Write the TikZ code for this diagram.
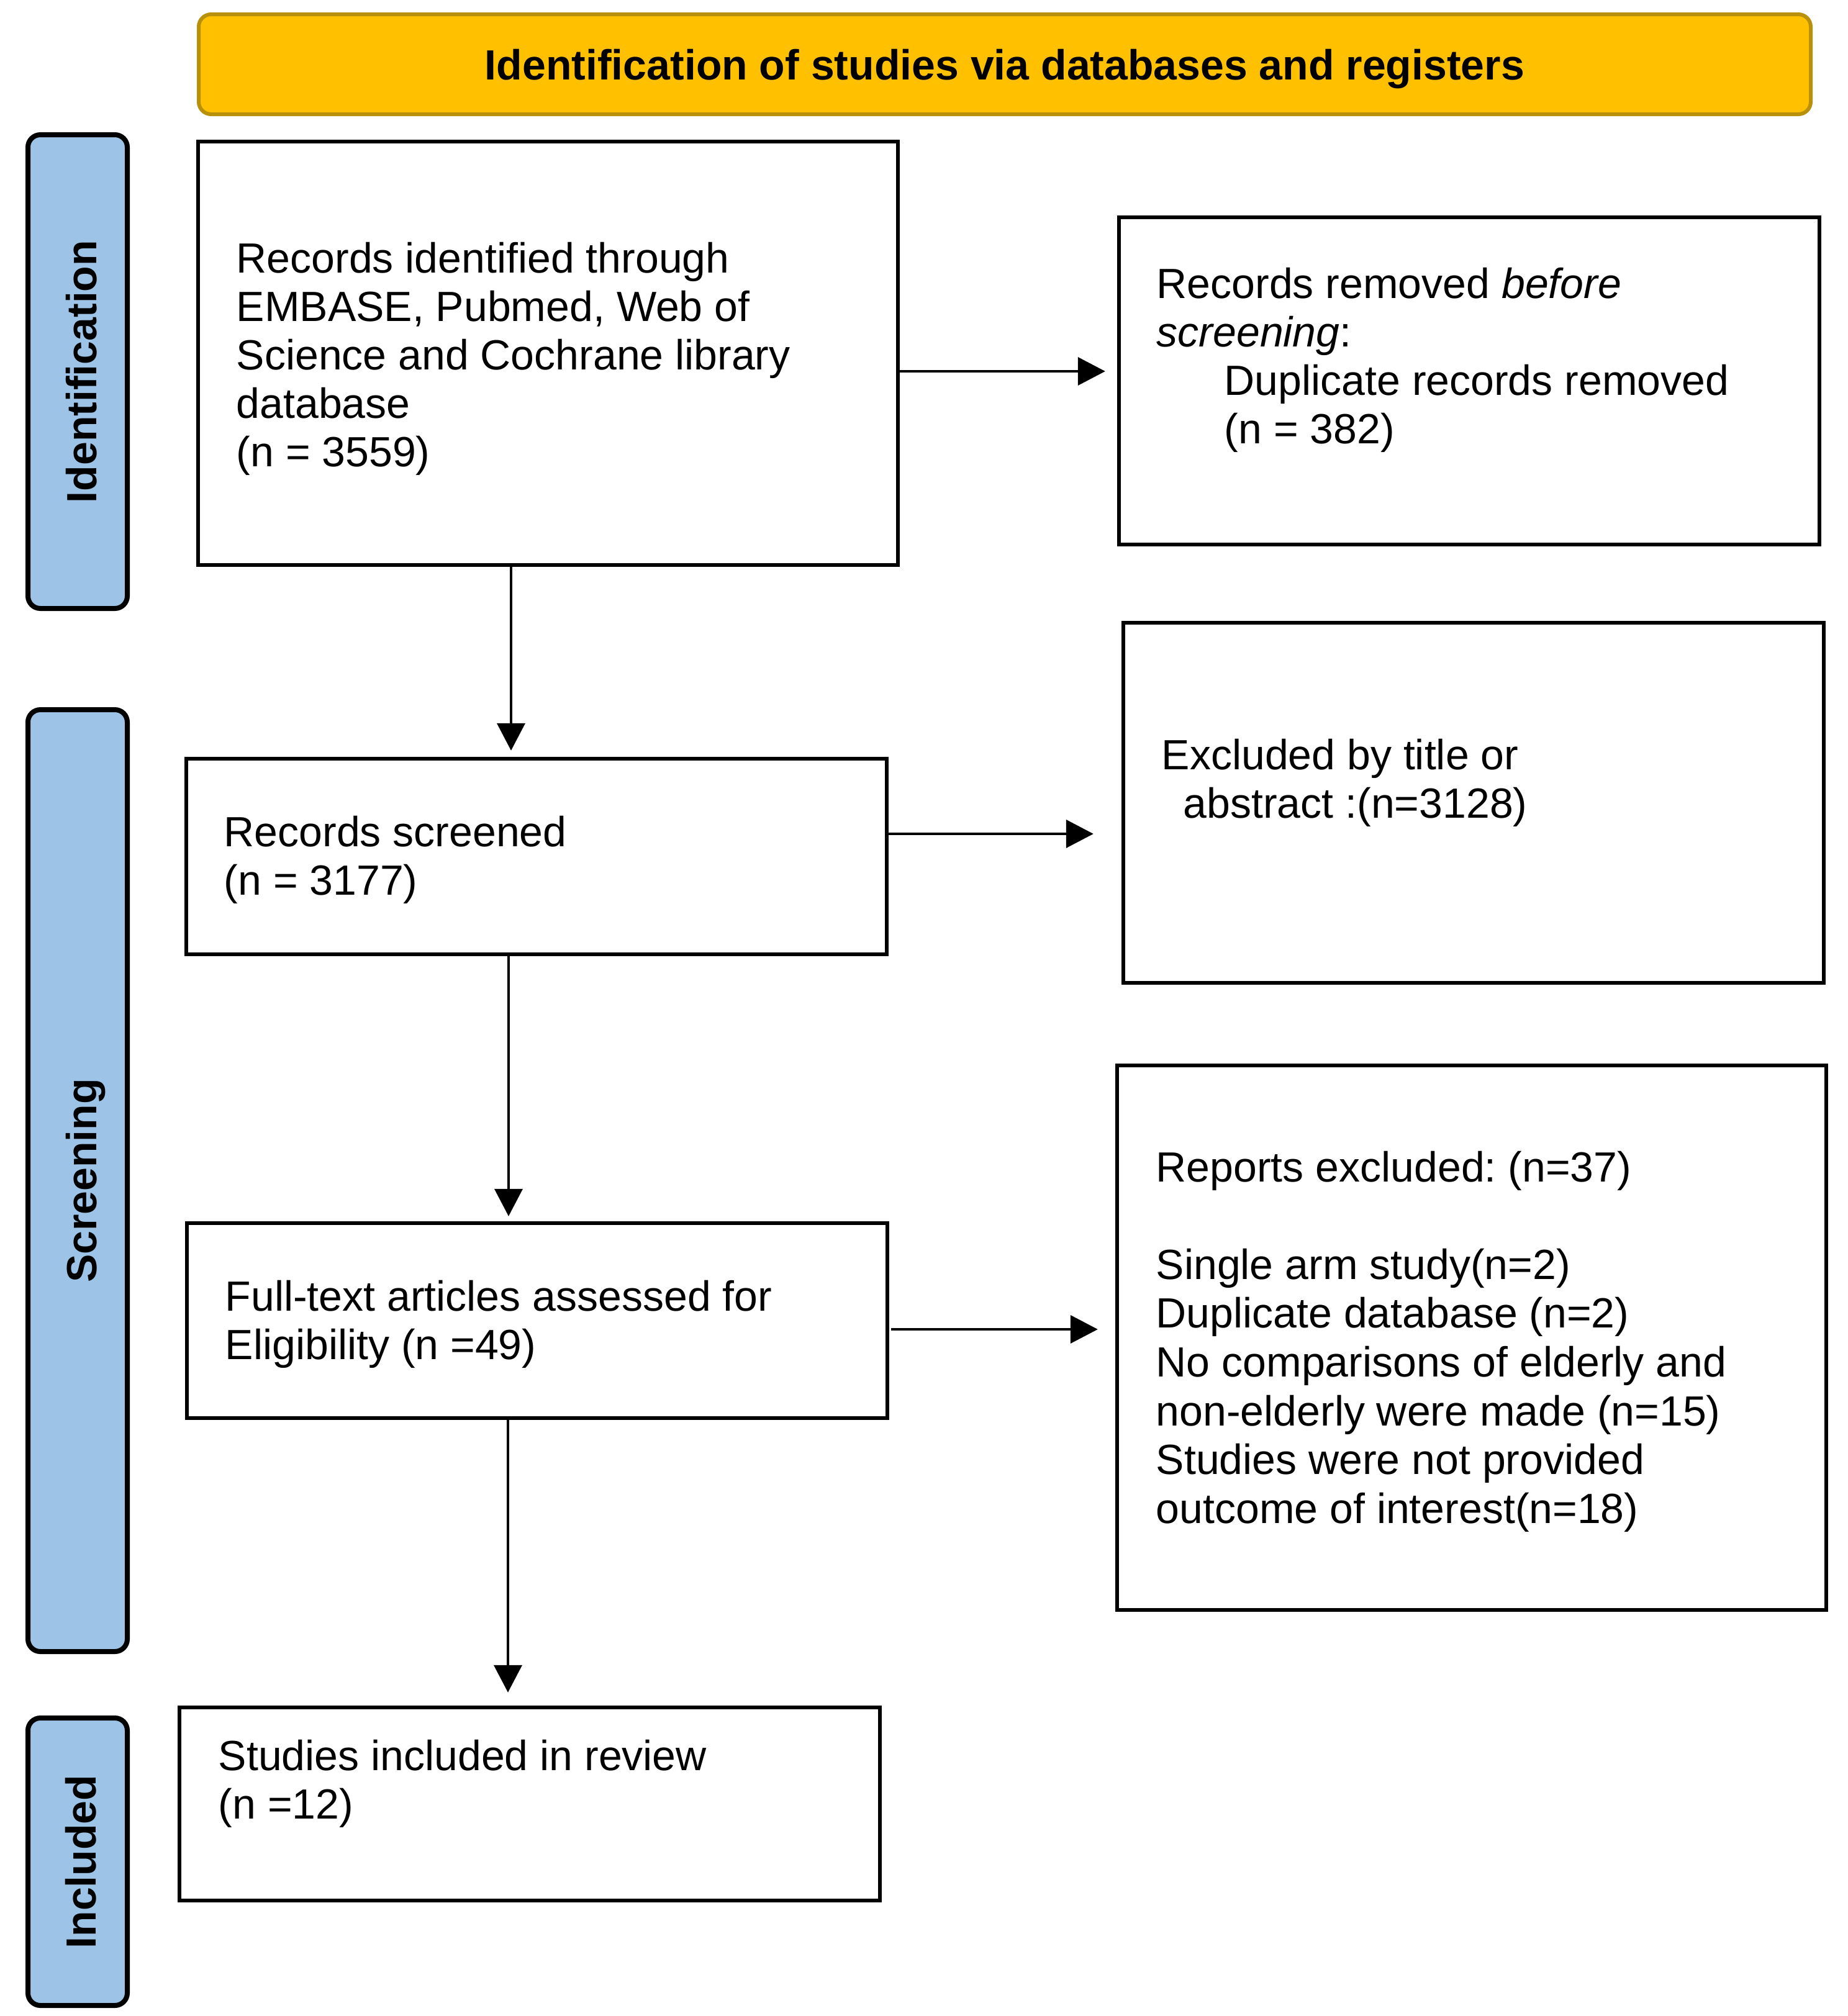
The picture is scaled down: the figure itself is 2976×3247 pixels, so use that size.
\documentclass[tikz,border=0pt]{standalone}
\usepackage{fontspec}
\setmainfont{Liberation Sans}
\usetikzlibrary{fit,arrows.meta}
\definecolor{hdrfill}{HTML}{FFC000}
\definecolor{hdrline}{HTML}{B8900A}
\definecolor{sidefill}{HTML}{9DC3E6}
\begin{document}
\frenchspacing
\begin{tikzpicture}[x=0.25pt,y=-0.25pt,
  box/.style={draw=black,line width=1.6pt,inner sep=0pt,fill=white},
  sidebox/.style={draw=black,line width=2pt,fill=sidefill,rounded corners=5pt,inner sep=0pt},
  hdrbox/.style={draw=hdrline,line width=1.5pt,fill=hdrfill,rounded corners=5pt,inner sep=0pt},
  txt/.style={inner sep=0pt,anchor=base west,font=\fontsize{17pt}{19.55pt}\selectfont\frenchspacing},
  sidetxt/.style={inner sep=0pt,anchor=base,rotate=90,font=\fontsize{17pt}{20pt}\selectfont\bfseries},
  arr/.style={draw=black,line width=1pt,-{Triangle[length=11pt,width=11.25pt]}}
]
\useasboundingbox (0,0) rectangle (2976,3247);

% header
\coordinate (hA) at (320,23); \coordinate (hB) at (2916,184);
\node[hdrbox,fit=(hA)(hB)] (hdr) {};
\node[inner sep=0pt,anchor=base,font=\fontsize{17pt}{20pt}\selectfont\bfseries] (hdrt) at (1618,128) {Identification of studies via databases and registers};

% side boxes
\coordinate (sIA) at (45,217); \coordinate (sIB) at (205,980);
\node[sidebox,fit=(sIA)(sIB)] (sideI) {};
\node[sidetxt] (sideIt) at (155,598.5) {Identification};
\coordinate (sSA) at (45,1143); \coordinate (sSB) at (205,2660);
\node[sidebox,fit=(sSA)(sSB)] (sideS) {};
\node[sidetxt] (sideSt) at (155,1901.5) {Screening};
\coordinate (sNA) at (45,2767); \coordinate (sNB) at (205,3230);
\node[sidebox,fit=(sNA)(sNB)] (sideN) {};
\node[sidetxt] (sideNt) at (154,2998.5) {Included};

% boxes
\coordinate (b1A) at (319,228); \coordinate (b1B) at (1446,910);
\node[box,fit=(b1A)(b1B)] (b1) {};
\node[txt] (t1) at (380,439) {\parbox[t]{300pt}{Records identified through\\EMBASE, Pubmed, Web of\\Science and Cochrane library\\database\\(n = 3559)}};

\coordinate (b2A) at (1802,350); \coordinate (b2B) at (2930,877);
\node[box,fit=(b2A)(b2B)] (b2) {};
\node[txt] (t2) at (1862,480) {\parbox[t]{300pt}{Records removed \textit{before}\\\textit{screening}:\\\hspace*{27.25pt}Duplicate records removed\\\hspace*{27.25pt}(n = 382)}};

\coordinate (b3A) at (300,1222); \coordinate (b3B) at (1428,1537);
\node[box,fit=(b3A)(b3B)] (b3) {};
\node[txt] (t3) at (360,1363) {\parbox[t]{300pt}{Records screened\\(n = 3177)}};

\coordinate (b4A) at (1809,1003); \coordinate (b4B) at (2937,1583);
\node[box,fit=(b4A)(b4B)] (b4) {};
\node[txt] (t4) at (1870,1239) {\parbox[t]{300pt}{Excluded by title or\\\hspace*{8.75pt}abstract :(n=3128)}};

\coordinate (b5A) at (1799,1716); \coordinate (b5B) at (2941,2593);
\node[box,fit=(b5A)(b5B)] (b5) {};
\node[txt,font=\fontsize{17pt}{19.65pt}\selectfont\frenchspacing] (t5) at (1861,1903) {\parbox[t]{300pt}{Reports excluded: (n=37)\\[19.65pt]Single arm study(n=2)\\Duplicate database (n=2)\\No comparisons of elderly and\\non-elderly were made (n=15)\\Studies were not provided\\outcome of interest(n=18)}};

\coordinate (b6A) at (301,1970); \coordinate (b6B) at (1429,2284);
\node[box,fit=(b6A)(b6B)] (b6) {};
\node[txt] (t6) at (362,2111) {\parbox[t]{300pt}{Full-text articles assessed for\\Eligibility (n =49)}};

\coordinate (b7A) at (289,2750); \coordinate (b7B) at (1417,3061);
\node[box,fit=(b7A)(b7B)] (b7) {};
\node[txt] (t7) at (351,2851) {\parbox[t]{300pt}{Studies included in review\\(n =12)}};

% connectors
\coordinate (yh1) at (0,598);
\coordinate (yh2) at (0,1343);
\coordinate (yh3) at (0,2141);
\coordinate (xv1) at (823,0);
\coordinate (xv2) at (819,0);
\coordinate (xv3) at (818,0);
\draw[arr,shorten >=4.75pt] (b1.east |- yh1) -- (b2.west |- yh1);
\draw[arr,shorten >=11.25pt] (b3.east |- yh2) -- (b4.west |- yh2);
\draw[arr,shorten >=7pt,shorten <=0.75pt] (b6.east |- yh3) -- (b5.west |- yh3);
\draw[arr,shorten >=2.5pt] (b1.south -| xv1) -- (b3.north -| xv1);
\draw[arr,shorten >=2pt] (b3.south -| xv2) -- (b6.north -| xv2);
\draw[arr,shorten >=5.25pt] (b6.south -| xv3) -- (b7.north -| xv3);
\end{tikzpicture}
\end{document}
